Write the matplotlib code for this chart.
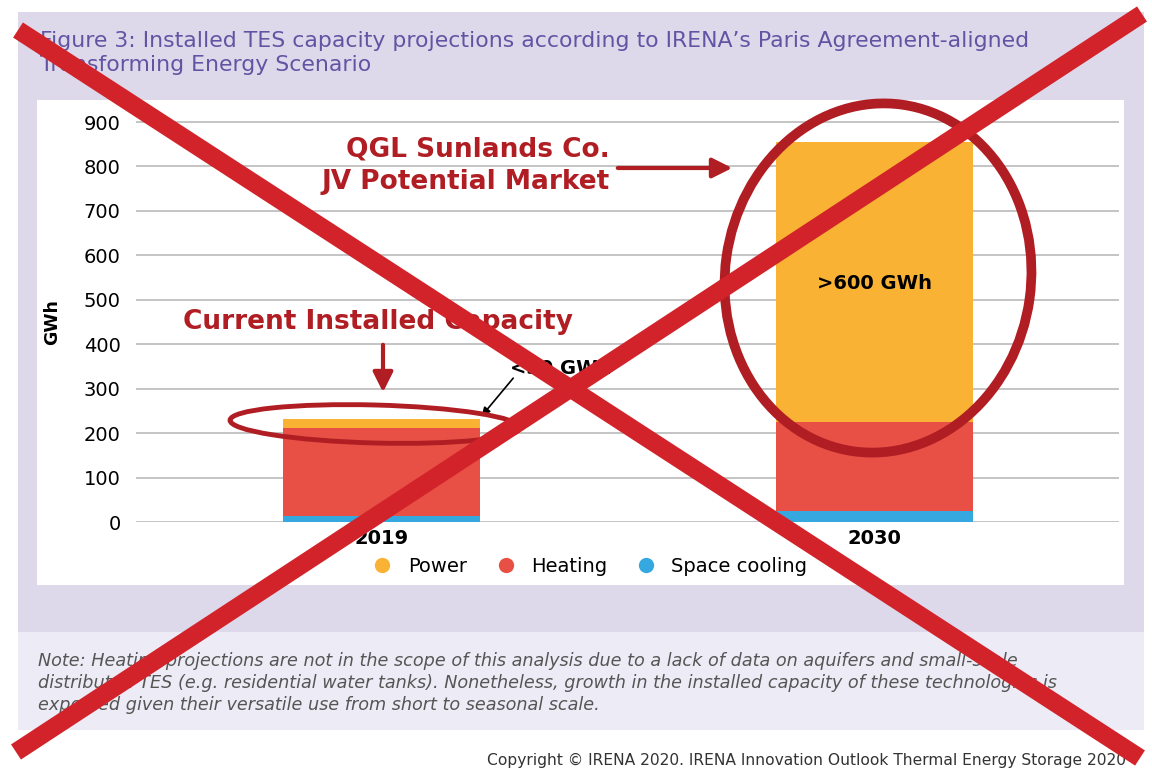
import numpy as np
import matplotlib.pyplot as plt
from matplotlib.patches import Rectangle, Ellipse, FancyArrowPatch
from matplotlib.lines import Line2D

# data (GWh)
years = ["2019", "2030"]
space_cooling = [14, 25]
heating = [198, 199]
power = [20, 632]
series_names = ["Power", "Heating", "Space cooling"]
series_colors = ["#F9B233", "#E85045", "#35A8E0"]

W, H = 1152, 769
DARK_RED = "#B01E24"
X_RED = "#D2232A"
plt.rcParams['font.family'] = ['DejaVu Sans']

fig = plt.figure(figsize=(W / 100, H / 100), dpi=100, facecolor='white')
tr = fig.dpi_scale_trans


def P(x, y):
    # pixel (top-left origin) -> inches for dpi_scale_trans
    return x / 100, (H - y) / 100


def rect(x0, y0, x1, y1, color, z=-5):
    (a, b) = P(x0, y1)
    fig.patches.append(Rectangle((a, b), (x1 - x0) / 100, (y1 - y0) / 100,
                                 transform=tr, facecolor=color, edgecolor='none', zorder=z))


# panels
rect(18, 12, 1144, 632, "#DDD9EB")
rect(18, 632, 1144, 730, "#EDEBF5")
rect(37, 100, 1124, 585, "white", z=-4)

# axes placed so that 0 -> y 522 px, 900 -> y 122 px
ymax = 910
px_per = 400 / 900
top_px = 522 - ymax * px_per
ax = fig.add_axes([136 / W, (H - 522) / H, (1119 - 136) / W, (522 - top_px) / H])
ax.patch.set_visible(False)
ax.set_ylim(0, ymax)
ax.set_xlim(-0.498, 1.497)

x = np.arange(len(years))
bw = 0.4
ax.bar(x, space_cooling, bw, color=series_colors[2], zorder=3, label=series_names[2])
ax.bar(x, heating, bw, bottom=space_cooling, color=series_colors[1], zorder=3, label=series_names[1])
bottom2 = np.array(space_cooling) + np.array(heating)
ax.bar(x, power, bw, bottom=bottom2, color=series_colors[0], zorder=3, label=series_names[0])

ax.set_yticks(np.arange(0, 901, 100))
ax.grid(axis='y', color='#C4C4C4', linewidth=1.4, zorder=0)
for s in ax.spines.values():
    s.set_visible(False)
ax.tick_params(axis='both', length=0, colors='black')
ax.tick_params(axis='y', pad=11, labelsize=14)
ax.set_xticks(x)
ax.set_xticklabels(years, fontweight='bold', fontsize=14)
ax.tick_params(axis='x', pad=5)
fig.text(52 / W, (H - 322) / H, "GWh", rotation=90, fontweight='bold', fontsize=12.5,
         ha='center', va='center')

# legend
handles = [Line2D([], [], marker='o', linestyle='none', markersize=11,
                  markerfacecolor=c, markeredgecolor='none') for c in series_colors]
fig.legend(handles, series_names, loc='center', bbox_to_anchor=(585 / W, (H - 566) / H),
           ncol=3, frameon=False, fontsize=14, handletextpad=0.3, columnspacing=1.0)

# title and footer texts
fig.text(40 / W, (H - 53) / H,
         "Figure 3: Installed TES capacity projections according to IRENA\u2019s Paris Agreement-aligned\n"
         "Transforming Energy Scenario", color="#6354A3", fontsize=15.8, va='center',
         linespacing=1.2)
fig.text(38 / W, (H - 683) / H,
         "Note: Heating projections are not in the scope of this analysis due to a lack of data on aquifers and small-scale\n"
         "distributed TES (e.g. residential water tanks). Nonetheless, growth in the installed capacity of these technologies is\n"
         "expected given their versatile use from short to seasonal scale.",
         color="#555555", fontsize=12.7, style='italic', va='center', linespacing=1.25)
fig.text(1126 / W, (H - 760) / H,
         "Copyright \u00a9 IRENA 2020. IRENA Innovation Outlook Thermal Energy Storage 2020",
         color="#333333", fontsize=11.2, ha='right', va='center')

# annotations
ax.text(x[1], 536, ">600 GWh", ha='center', va='center', fontweight='bold', fontsize=14, zorder=5)
fig.text(610 / W, (H - 166) / H, "QGL Sunlands Co.\nJV Potential Market", ha='right', va='center',
         color=DARK_RED, fontweight='bold', fontsize=19, linespacing=1.3, zorder=6)
fig.text(378 / W, (H - 322) / H, "Current Installed Capacity", ha='center', va='center',
         color=DARK_RED, fontweight='bold', fontsize=19, zorder=6)
fig.text(510 / W, (H - 368) / H, "<30 GWh", ha='left', va='center',
         color='black', fontweight='bold', fontsize=14, zorder=6)


def arrow(p0, p1, color, lw, ms):
    fig.add_artist(FancyArrowPatch(P(*p0), P(*p1), transform=tr, arrowstyle='-|>',
                                   mutation_scale=ms, color=color, lw=lw, zorder=7))


arrow((615, 168), (735, 168), DARK_RED, 3.0, 30)
arrow((383, 342), (383, 395), DARK_RED, 3.0, 30)
arrow((515, 376), (480, 418), 'black', 1.2, 12)

# hand drawn rings
fig.add_artist(Ellipse(P(375, 424), 2.9, 0.38, angle=-1.5, transform=tr, fill=False,
                       edgecolor=DARK_RED, lw=3.5, zorder=8))
fig.add_artist(Ellipse(P(878, 278), 3.06, 3.5, angle=-8, transform=tr, fill=False,
                       edgecolor=DARK_RED, lw=7, zorder=8))

# big cross over everything
for (a, b) in [((18, 30), (1140, 758)), ((1142, 14), (16, 752))]:
    xs, ys = zip(P(*a), P(*b))
    fig.add_artist(Line2D(xs, ys, transform=tr, color=X_RED, lw=13, solid_capstyle='butt', zorder=20))

fig.savefig("out.png", dpi=100, facecolor='white')
